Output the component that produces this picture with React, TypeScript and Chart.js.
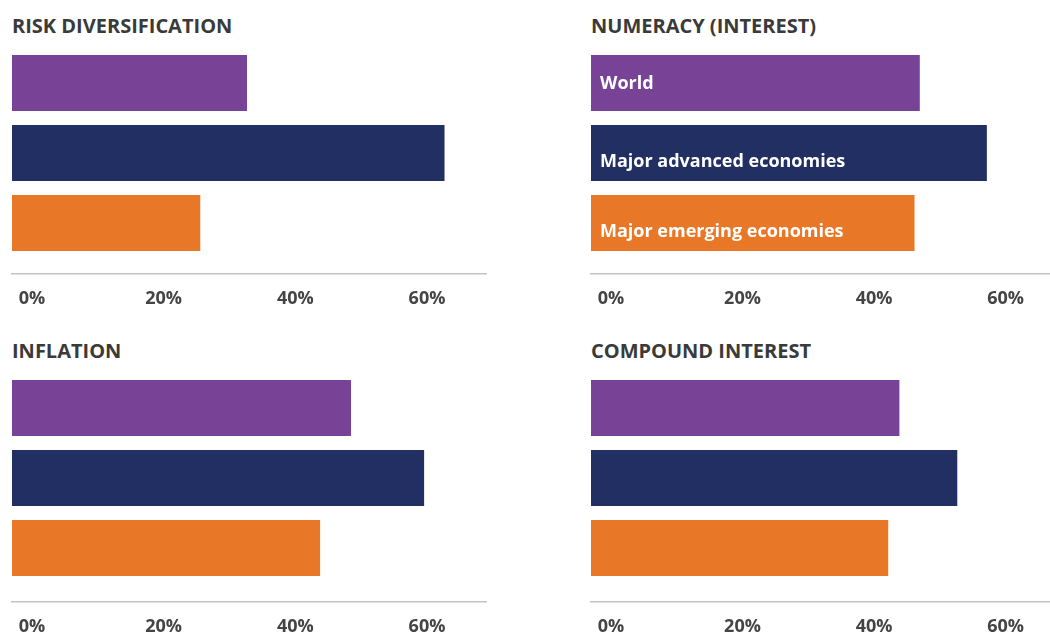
import React, { useEffect, useRef } from 'react';
import { Chart, registerables } from 'chart.js';

Chart.register(...registerables);

const categories = ['World', 'Major advanced economies', 'Major emerging economies'];
const panelTitles = ['RISK DIVERSIFICATION', 'NUMERACY (INTEREST)', 'INFLATION', 'COMPOUND INTEREST'];
const riskDiversification = [35.7, 65.7, 28.6];
const numeracyInterest = [50.0, 60.2, 49.2];
const inflation = [51.5, 62.6, 46.8];
const compoundInterest = [46.9, 55.7, 45.2];
const tickValues = [0, 20, 40, 60];
const barColors = ['#784397', '#212F63', '#E87828'];

const FONT = '"Open Sans", sans-serif';
const labelDy = [6, 13.5, 13.5];

const barLabelPlugin = {
  id: 'barLabels',
  afterDatasetsDraw(chart: any, _args: any, opts: any) {
    if (!opts || !opts.show) return;
    const ctx = chart.ctx;
    const meta = chart.getDatasetMeta(0);
    ctx.save();
    ctx.fillStyle = '#ffffff';
    ctx.font = `bold 18px ${FONT}`;
    ctx.textAlign = 'left';
    ctx.textBaseline = 'alphabetic';
    meta.data.forEach((bar: any, i: number) => {
      ctx.fillText(categories[i], chart.chartArea.left + 9, bar.y + labelDy[i]);
    });
    ctx.restore();
  },
};

type PanelProps = {
  title: string;
  values: number[];
  showLabels: boolean;
  left: number;
  top: number;
  width: number;
  padRight: number;
  xMax: number;
  plotBottom: number;
};

function Panel({ title, values, showLabels, left, top, width, padRight, xMax, plotBottom }: PanelProps) {
  const ref = useRef<HTMLCanvasElement | null>(null);
  const height = 312;
  const plotTop = 48;
  const yMax = -0.5 + (plotBottom - plotTop) / 70;
  useEffect(() => {
    if (!ref.current) return;
    const chart = new Chart(ref.current, {
      type: 'bar',
      data: {
        datasets: [
          {
            data: values.map((v, i) => ({ x: v, y: i })),
            backgroundColor: barColors,
            borderWidth: 0,
            barPercentage: 0.8,
            categoryPercentage: 1,
          },
        ],
      },
      plugins: [barLabelPlugin],
      options: {
        indexAxis: 'y',
        animation: false,
        responsive: false,
        devicePixelRatio: 1,
        layout: { padding: { left: 12, right: padRight, top: plotTop, bottom: 0 } },
        plugins: {
          legend: { display: false },
          tooltip: { enabled: false },
          barLabels: { show: showLabels },
        } as any,
        scales: {
          x: {
            type: 'linear',
            min: 0,
            max: xMax,
            afterFit: (s: any) => {
              s.height = height - plotBottom;
              s.paddingLeft = 0;
              s.paddingRight = 0;
            },
            afterBuildTicks: (s: any) => {
              s.ticks = tickValues.map((v) => ({ value: v }));
            },
            grid: { display: false, drawTicks: false },
            border: { display: true, color: '#c4c4c4', width: 1.5 },
            ticks: {
              autoSkip: false,
              maxRotation: 0,
              labelOffset: 20,
              padding: 14,
              color: '#444444',
              font: { family: FONT, weight: 'bold', size: 18 },
              callback: (v: any) => `${v}%`,
            },
          },
          y: {
            type: 'linear',
            min: -0.5,
            max: yMax,
            reverse: true,
            offset: false,
            grid: { offset: false },
            display: false,
            afterBuildTicks: (s: any) => {
              s.ticks = categories.map((_c, i) => ({ value: i }));
            },
          },
        },
      } as any,
    });
    return () => chart.destroy();
  }, []);
  return (
    <div style={{ position: 'absolute', left, top, width, height }}>
      <div
        style={{
          position: 'absolute',
          left: 12,
          top: 13,
          fontFamily: FONT,
          fontWeight: 700,
          fontSize: 20,
          lineHeight: '26px',
          color: '#3a3a3a',
          whiteSpace: 'nowrap',
        }}
      >
        {title}
      </div>
      <canvas ref={ref} width={width} height={height} style={{ position: 'absolute', left: 0, top: 0 }} />
    </div>
  );
}

export default function App() {
  return (
    <div style={{ position: 'fixed', left: 0, top: 0, width: 1050, height: 635, background: '#ffffff', overflow: 'hidden' }}>
      <Panel title={panelTitles[0]} values={riskDiversification} showLabels={false} left={0} top={0} width={500} padRight={14} xMax={72} plotBottom={274} />
      <Panel title={panelTitles[1]} values={numeracyInterest} showLabels={true} left={579} top={0} width={471} padRight={0} xMax={69.8} plotBottom={274} />
      <Panel title={panelTitles[2]} values={inflation} showLabels={false} left={0} top={325} width={500} padRight={14} xMax={72} plotBottom={277} />
      <Panel title={panelTitles[3]} values={compoundInterest} showLabels={false} left={579} top={325} width={471} padRight={0} xMax={69.8} plotBottom={277} />
    </div>
  );
}
